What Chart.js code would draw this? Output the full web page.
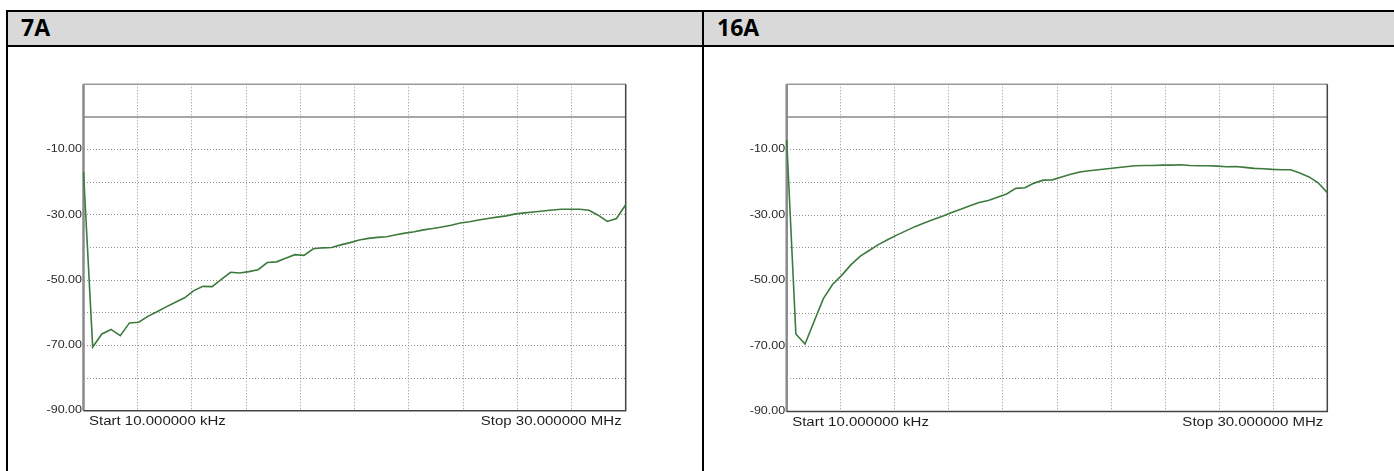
<!DOCTYPE html>
<html>
<head>
<meta charset="utf-8">
<script src="https://cdn.jsdelivr.net/npm/chart.js@4.4.1/dist/chart.umd.min.js"></script>
<style>
body{margin:0;background:#fff;width:1394px;height:471px;overflow:hidden;position:relative}
.ln{position:absolute;background:#000}
.hd{position:absolute;top:12px;height:33px;background:#d9d9d9}
.ht{position:absolute;top:11px;line-height:33px;font:bold 23px "Open Sans",sans-serif;color:#000}
.cv{position:absolute;top:47px;height:424px}
</style>
</head>
<body>
<div class="hd" style="left:8px;width:694px"></div>
<div class="hd" style="left:704px;width:690px"></div>
<div class="ln" style="left:6px;top:10px;width:1388px;height:2px"></div>
<div class="ln" style="left:6px;top:45px;width:1388px;height:2px"></div>
<div class="ln" style="left:6px;top:10px;width:2px;height:461px"></div>
<div class="ln" style="left:702px;top:10px;width:2px;height:461px"></div>
<div class="ht" id="t1" style="left:21px"></div>
<div class="ht" id="t2" style="left:717px"></div>
<div class="cv" style="left:8px;width:694px"><canvas id="c1"></canvas></div>
<div class="cv" style="left:704px;width:690px"><canvas id="c2"></canvas></div>
<script>
// panel titles
const panelTitles = ['7A', '16A'];

// y tick labels (dB) and sweep annotation
const dbLabels = [-10, -30, -50, -70, -90];
const startLabel = 'Start 10.000000 kHz';
const stopLabel = 'Stop 30.000000 MHz';

// traces, 60 sweep points each (dB)
const trace7A = [-16.9,-70.5,-66.5,-65.1,-67.0,-63.1,-62.9,-61.1,-59.7,-58.2,
  -56.8,-55.4,-53.2,-51.9,-52.0,-49.8,-47.6,-47.8,-47.4,-46.8,
  -44.6,-44.4,-43.3,-42.2,-42.4,-40.4,-40.1,-40.0,-39.2,-38.5,
  -37.7,-37.2,-36.9,-36.7,-36.1,-35.6,-35.2,-34.6,-34.2,-33.7,
  -33.2,-32.5,-32.1,-31.6,-31.1,-30.7,-30.3,-29.7,-29.4,-29.1,
  -28.8,-28.5,-28.3,-28.3,-28.3,-28.6,-30.1,-32.0,-31.1,-26.9];
const trace16A = [-7.0,-66.3,-69.4,-62.4,-55.5,-51.2,-48.4,-45.2,-42.6,-40.8,
  -39.0,-37.5,-36.1,-34.8,-33.5,-32.4,-31.3,-30.3,-29.2,-28.2,
  -27.1,-26.1,-25.5,-24.5,-23.5,-21.8,-21.6,-20.2,-19.3,-19.2,
  -18.3,-17.5,-16.8,-16.4,-16.1,-15.8,-15.5,-15.2,-14.9,-14.8,
  -14.8,-14.7,-14.7,-14.6,-14.8,-14.9,-14.9,-15.0,-15.2,-15.1,
  -15.4,-15.7,-15.8,-16.0,-16.1,-16.1,-17.1,-18.3,-20.1,-23.1];

document.getElementById('t1').textContent = panelTitles[0];
document.getElementById('t2').textContent = panelTitles[1];

// frame, 0 dB reference line and the stretched analyser-style labels
const analyser = {
  id: 'analyser',
  beforeDatasetsDraw(chart){
    const {ctx, chartArea: a, scales: {y}} = chart;
    ctx.save();
    const z = y.getPixelForValue(0);
    ctx.strokeStyle = '#8a8a8a'; ctx.lineWidth = 1.5;
    ctx.beginPath(); ctx.moveTo(a.left, z); ctx.lineTo(a.right, z); ctx.stroke();
    ctx.strokeStyle = '#999'; ctx.lineWidth = 1.5;
    ctx.beginPath(); ctx.moveTo(a.left, a.top); ctx.lineTo(a.right, a.top); ctx.stroke();
    ctx.strokeStyle = '#8a8a8a'; ctx.lineWidth = 2.5;
    ctx.beginPath(); ctx.moveTo(a.left, a.top); ctx.lineTo(a.left, a.bottom); ctx.stroke();
    ctx.strokeStyle = '#444'; ctx.lineWidth = 1.5;
    ctx.beginPath(); ctx.moveTo(a.left, a.bottom); ctx.lineTo(a.right, a.bottom); ctx.lineTo(a.right, a.top); ctx.stroke();
    ctx.restore();
  },
  afterDraw(chart){
    const {ctx, chartArea: a, scales: {y}} = chart;
    ctx.save();
    ctx.fillStyle = '#2a2a2a';
    ctx.textBaseline = 'middle';
    ctx.font = '10px "Liberation Sans", Arial, sans-serif';
    dbLabels.forEach(v => {
      ctx.save();
      ctx.translate(a.left - 1.5, y.getPixelForValue(v));
      ctx.scale(1.25, 1);
      ctx.textAlign = 'right';
      ctx.fillText(v.toFixed(2), 0, 0);
      ctx.restore();
    });
    ctx.fillStyle = '#1e1e1e';
    ctx.font = '12.5px "Liberation Sans", Arial, sans-serif';
    ctx.save();
    ctx.translate(a.left + 5.5, a.bottom + 11);
    ctx.scale(1.2, 1);
    ctx.textAlign = 'left';
    ctx.fillText(startLabel, 0, 0);
    ctx.restore();
    ctx.save();
    ctx.translate(a.right - 4, a.bottom + 11);
    ctx.scale(1.2, 1);
    ctx.textAlign = 'right';
    ctx.fillText(stopLabel, 0, 0);
    ctx.restore();
    ctx.restore();
  }
};

function makePlot(id, trace, pad){
  const dotted = {color: '#8f8f8f', lineWidth: 1, drawTicks: false};
  return new Chart(document.getElementById(id), {
    type: 'line',
    data: {
      labels: trace.map((v, i) => i),
      datasets: [{data: trace, borderColor: '#3d7a3d', borderWidth: 1.6,
        pointRadius: 0, tension: 0, fill: false}]
    },
    options: {
      responsive: true, maintainAspectRatio: false, animation: false,
      layout: {padding: pad},
      plugins: {legend: {display: false}, tooltip: {enabled: false}},
      scales: {
        x: {display: false},
        g: {type: 'linear', position: 'bottom', min: 0, max: 10,
          ticks: {display: false, stepSize: 1}, grid: dotted,
          border: {display: false, dash: [1, 2]}},
        y: {min: -90, max: 10, ticks: {display: false, stepSize: 10},
          grid: Object.assign({}, dotted, {color: c => c.tick && c.tick.value === 0 ? 'rgba(0,0,0,0)' : '#8f8f8f'}),
          border: {display: false, dash: [1, 2]}}
      }
    },
    plugins: [analyser]
  });
}

makePlot('c1', trace7A, {left: 75.5, top: 37.3, right: 76.3, bottom: 60.3});
makePlot('c2', trace16A, {left: 82.7, top: 37.3, right: 66.7, bottom: 59.5});
</script>
</body>
</html>
